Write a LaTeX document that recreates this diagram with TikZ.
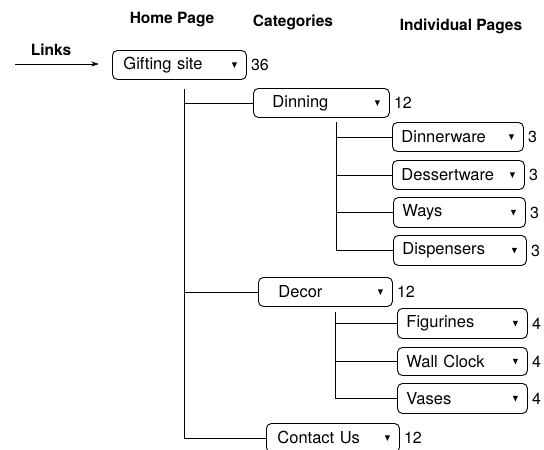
\documentclass[tikz,border=0pt]{standalone}
\usepackage{fontspec}
\setmainfont{TeX Gyre Heros}
\usetikzlibrary{arrows.meta,calc}
\tikzset{
  box/.style={draw, line width=0.9pt, rounded corners=5pt, align=left, inner ysep=0pt, font=\fontsize{16.5}{18}\selectfont},
  num/.style={inner xsep=4pt, font=\fontsize{16}{18}\selectfont},
  hdr/.style={font=\fontsize{15.5}{18}\selectfont\bfseries},
  conn/.style={line width=0.8pt},
  tri/.style={fill=black}
}
\newcommand\tbox[8]{%
  \pgfmathsetmacro\bw{#4-#2}\pgfmathsetmacro\bh{#5-#3}\pgfmathsetmacro\tw{#4-#2-2*#6}%
  \node[box, anchor=north west, minimum width=\bw pt, minimum height=\bh pt, text width=\tw pt, inner xsep=#6pt] (#1) at (#2pt,-#3pt) {#7};
  \fill[tri] ($(#1.east)+(-15pt,2.5pt)$) -- ++(5pt,0) -- ++(-2.5pt,-5.5pt) -- cycle;
  \node[num, anchor=west] (#1n) at (#1.east) {#8};
}
\begin{document}
\begin{tikzpicture}[x=1pt,y=1pt]
\useasboundingbox[fill=white] (0,0) rectangle (544,-450);
\node[hdr] (h1) at (172,-20) {Home Page};
\node[hdr] (h2) at (293,-22) {Categories};
\node[hdr] (h3) at (461,-26) {Individual Pages};
\node[hdr] (links) at (51,-50) {Links};

\tbox{gift}{112}{50}{246}{79}{11}{Gifting site}{36}
\tbox{din}{253}{88}{389}{117}{19}{Dinning}{12}
\tbox{dw}{392}{122}{523}{151}{9}{Dinnerware}{3}
\tbox{dsw}{392}{160}{524}{189}{9}{Dessertware}{3}
\tbox{ways}{393}{197}{525}{227}{9}{Ways}{3}
\tbox{disp}{393}{235}{526}{265}{9}{Dispensers}{3}
\tbox{dec}{258}{277}{392}{306}{20}{Decor}{12}
\tbox{fig}{397}{308}{527}{338}{9}{Figurines}{4}
\tbox{wc}{397}{347}{527}{375}{9}{Wall Clock}{4}
\tbox{vas}{397}{383}{527}{413}{9}{Vases}{4}
\tbox{con}{266}{423}{399}{452}{11}{Contact Us}{12}

\coordinate (la) at (15,-64);
\draw[conn, -{Stealth[length=8pt,width=5pt]}, shorten >=13pt] (la) -- (la -| gift.west);

\coordinate (t0) at (184,-89);
\draw[conn] (t0) |- (con.west);
\draw[conn] (t0 |- din.west) -- (din.west);
\draw[conn] (t0 |- dec.west) -- (dec.west);

\coordinate (s0) at (336,-122);
\draw[conn] (s0) |- (disp.west);
\draw[conn] (s0 |- dw.west) -- (dw.west);
\draw[conn] (s0 |- dsw.west) -- (dsw.west);
\draw[conn] (s0 |- ways.west) -- (ways.west);

\coordinate (s1) at (335,-312);
\draw[conn] (s1) |- (vas.west);
\draw[conn] (s1 |- fig.west) -- (fig.west);
\draw[conn] (s1 |- wc.west) -- (wc.west);
\end{tikzpicture}
\end{document}
